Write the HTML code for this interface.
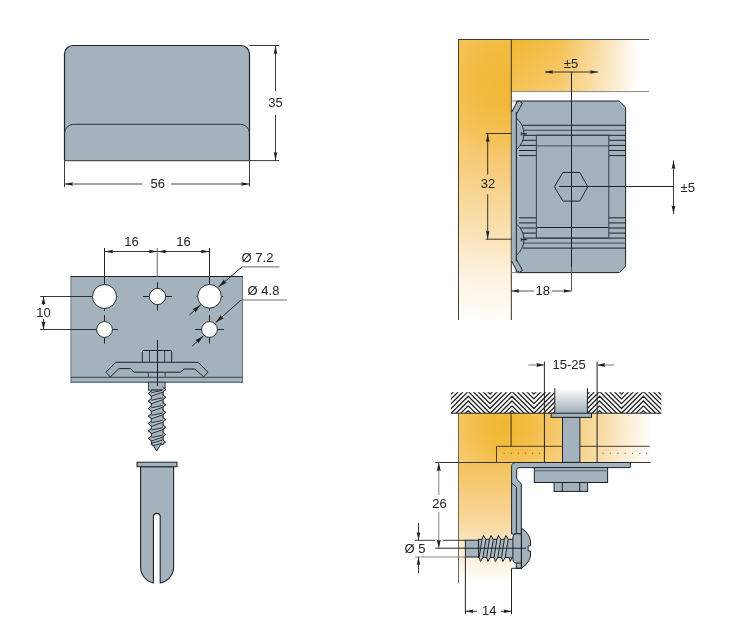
<!DOCTYPE html>
<html><head><meta charset="utf-8"><style>html,body{margin:0;padding:0;background:#fff;overflow:hidden}svg{display:block;will-change:transform}text{font-family:"Liberation Sans",sans-serif}</style></head>
<body><svg width="751" height="639" viewBox="0 0 751 639">
<defs>
<radialGradient id="gL" gradientUnits="userSpaceOnUse" cx="508" cy="80" r="245">
<stop offset="0" stop-color="#f2b636"/><stop offset="0.12" stop-color="#f3ba40"/><stop offset="0.26" stop-color="#f5c35a"/><stop offset="0.32" stop-color="#f6c870"/><stop offset="0.58" stop-color="#f9dda8"/><stop offset="0.82" stop-color="#fdf3e3"/><stop offset="1" stop-color="#fffefb"/></radialGradient>
<linearGradient id="gT" gradientUnits="userSpaceOnUse" x1="511" y1="0" x2="649" y2="0">
<stop offset="0" stop-color="#f2b630"/><stop offset="0.35" stop-color="#f4c050"/><stop offset="0.6" stop-color="#f8d898"/><stop offset="0.8" stop-color="#fcefd8"/><stop offset="0.92" stop-color="#ffffff"/></linearGradient>
<linearGradient id="gTv" x1="0" y1="0" x2="0" y2="1"><stop offset="0" stop-color="#fff" stop-opacity="0"/><stop offset="1" stop-color="#fff" stop-opacity="0.18"/></linearGradient>
<radialGradient id="gW" gradientUnits="userSpaceOnUse" cx="505" cy="425" r="150">
<stop offset="0" stop-color="#f2b630"/><stop offset="0.15" stop-color="#f3bb40"/><stop offset="0.36" stop-color="#f6c96e"/><stop offset="0.65" stop-color="#f9dca5"/><stop offset="0.85" stop-color="#fdf1de"/><stop offset="1" stop-color="#ffffff"/></radialGradient>
<linearGradient id="gW2" gradientUnits="userSpaceOnUse" x1="0" y1="462" x2="0" y2="585">
<stop offset="0" stop-color="#f4c25a"/><stop offset="0.45" stop-color="#f8d698"/><stop offset="0.75" stop-color="#fcedd5"/><stop offset="1" stop-color="#ffffff"/></linearGradient>
<linearGradient id="gS" x1="0" y1="0" x2="0" y2="1">
<stop offset="0" stop-color="#ffffff"/><stop offset="1" stop-color="#9fadb8"/></linearGradient>
<clipPath id="hclip"><path d="M450.8,392.2 L554.8,392.2 L554.8,413.2 L450.8,413.2 Z M587.4,392.2 L661.4,392.2 L661.4,413.2 L587.4,413.2 Z"/></clipPath>
</defs>
<path d="M64.5,160.6 L64.5,54.0 A8.5,8.5 0 0 1 73.0,45.5 L241.0,45.5 A8.5,8.5 0 0 1 249.5,54.0 L249.5,160.6 Z" fill="#a3b2bc" stroke="none"/>
<path d="M64.5,160.6 L64.5,54.0 A8.5,8.5 0 0 1 73.0,45.5 L241.0,45.5 A8.5,8.5 0 0 1 249.5,54.0 L249.5,160.6" fill="none" stroke="#1e2328" stroke-width="1.2"/>
<line x1="64.5" y1="160.6" x2="249.5" y2="160.6" stroke="#4a545c" stroke-width="1.2" />
<path d="M64.5,133.3 A9,9 0 0 1 73.5,124.3 L240.5,124.3 A9,9 0 0 1 249.5,133.3" fill="none" stroke="#2a3540" stroke-width="1"/>
<line x1="249.5" y1="45.5" x2="279" y2="45.5" stroke="#222" stroke-width="0.9" />
<line x1="249.5" y1="160.6" x2="279" y2="160.6" stroke="#222" stroke-width="0.9" />
<line x1="64.5" y1="160.6" x2="64.5" y2="187.2" stroke="#222" stroke-width="0.9" />
<line x1="249.5" y1="160.6" x2="249.5" y2="186.5" stroke="#222" stroke-width="0.9" />
<line x1="275.5" y1="45.5" x2="275.5" y2="91" stroke="#222" stroke-width="0.9" />
<line x1="275.5" y1="115" x2="275.5" y2="160.6" stroke="#222" stroke-width="0.9" />
<polygon points="275.5,45.5 277.3,54 275.5,53.15 273.7,54" fill="#222"/>
<polygon points="275.5,160.6 273.7,152.1 275.5,152.95 277.3,152.1" fill="#222"/>
<text x="275.5" y="107" font-size="13" text-anchor="middle" fill="#222">35</text>
<line x1="64.5" y1="184" x2="142.4" y2="184" stroke="#333" stroke-width="0.9" />
<line x1="171.1" y1="184" x2="249.5" y2="184" stroke="#333" stroke-width="0.9" />
<polygon points="64.5,184 73,182.2 72.15,184 73,185.8" fill="#222"/>
<polygon points="249.5,184 241,185.8 241.85,184 241,182.2" fill="#222"/>
<text x="157.8" y="187.8" font-size="13" text-anchor="middle" fill="#222">56</text>
<rect x="71" y="276.5" width="171.5" height="105.69999999999999" fill="#a3b2bc"/>
<line x1="71" y1="276.5" x2="71" y2="382.2" stroke="#6d7880" stroke-width="1.1" />
<line x1="242.5" y1="276.5" x2="242.5" y2="382.2" stroke="#6d7880" stroke-width="1.1" />
<line x1="70.5" y1="276.5" x2="243" y2="276.5" stroke="#1e2328" stroke-width="1.1" />
<line x1="70.5" y1="382.2" x2="243" y2="382.2" stroke="#3e4850" stroke-width="1.1" />
<line x1="71" y1="377.3" x2="242.5" y2="377.3" stroke="#39434b" stroke-width="1" />
<line x1="104.5" y1="251.5" x2="209.5" y2="251.5" stroke="#222" stroke-width="0.9" />
<polygon points="104.5,251.5 113,249.7 112.15,251.5 113,253.3" fill="#222"/>
<polygon points="157.5,251.5 149,253.3 149.85,251.5 149,249.7" fill="#222"/>
<polygon points="157.5,251.5 166,249.7 165.15,251.5 166,253.3" fill="#222"/>
<polygon points="209.5,251.5 201,253.3 201.85,251.5 201,249.7" fill="#222"/>
<line x1="104.5" y1="248" x2="104.5" y2="285" stroke="#1e2328" stroke-width="1" />
<line x1="157.2" y1="248" x2="157.2" y2="277" stroke="#555" stroke-width="0.9" />
<line x1="209.5" y1="248" x2="209.5" y2="285" stroke="#1e2328" stroke-width="1" />
<text x="131.6" y="246" font-size="13" text-anchor="middle" fill="#222">16</text>
<text x="183.6" y="246" font-size="13" text-anchor="middle" fill="#222">16</text>
<line x1="40.2" y1="296.5" x2="92.5" y2="296.5" stroke="#222" stroke-width="0.9" />
<line x1="40.2" y1="329.5" x2="96.6" y2="329.5" stroke="#222" stroke-width="0.9" />
<line x1="43.5" y1="296.5" x2="43.5" y2="305" stroke="#222" stroke-width="0.9" />
<line x1="43.5" y1="319" x2="43.5" y2="329.5" stroke="#222" stroke-width="0.9" />
<polygon points="43.5,296.5 45.5,304.5 43.5,303.7 41.5,304.5" fill="#222"/>
<polygon points="43.5,329.5 41.5,321.5 43.5,322.3 45.5,321.5" fill="#222"/>
<text x="43.5" y="316.6" font-size="13" text-anchor="middle" fill="#222">10</text>
<line x1="157.5" y1="282.4" x2="157.5" y2="290" stroke="#1e2328" stroke-width="1" />
<line x1="157.5" y1="303" x2="157.5" y2="310.6" stroke="#1e2328" stroke-width="1" />
<line x1="143" y1="296.5" x2="150" y2="296.5" stroke="#1e2328" stroke-width="1" />
<line x1="165" y1="296.5" x2="172" y2="296.5" stroke="#1e2328" stroke-width="1" />
<line x1="104.5" y1="307" x2="104.5" y2="311" stroke="#1e2328" stroke-width="1" />
<line x1="115" y1="296.5" x2="117.5" y2="296.5" stroke="#1e2328" stroke-width="1" />
<line x1="104.5" y1="315" x2="104.5" y2="322" stroke="#1e2328" stroke-width="1" />
<line x1="104.5" y1="337" x2="104.5" y2="343.6" stroke="#1e2328" stroke-width="1" />
<line x1="111.5" y1="329.5" x2="117.8" y2="329.5" stroke="#1e2328" stroke-width="1" />
<line x1="209.5" y1="307" x2="209.5" y2="310.8" stroke="#1e2328" stroke-width="1" />
<line x1="196.5" y1="296.5" x2="199" y2="296.5" stroke="#1e2328" stroke-width="1" />
<line x1="220.5" y1="296.5" x2="223" y2="296.5" stroke="#1e2328" stroke-width="1" />
<line x1="209.5" y1="315" x2="209.5" y2="322" stroke="#1e2328" stroke-width="1" />
<line x1="209.5" y1="337" x2="209.5" y2="343.5" stroke="#1e2328" stroke-width="1" />
<line x1="195.2" y1="329.5" x2="202" y2="329.5" stroke="#1e2328" stroke-width="1" />
<line x1="217" y1="329.5" x2="223.9" y2="329.5" stroke="#1e2328" stroke-width="1" />
<circle cx="104.5" cy="296.5" r="12" fill="#fff" stroke="#2a2f33" stroke-width="1"/>
<circle cx="209.5" cy="296.3" r="11.8" fill="#fff" stroke="#2a2f33" stroke-width="1"/>
<circle cx="157.5" cy="296.5" r="8.1" fill="#fff" stroke="#2a2f33" stroke-width="1"/>
<circle cx="104.5" cy="329.5" r="7.9" fill="#fff" stroke="#2a2f33" stroke-width="1"/>
<circle cx="209.5" cy="329.5" r="7.9" fill="#fff" stroke="#2a2f33" stroke-width="1"/>
<line x1="242" y1="266.9" x2="279.5" y2="266.9" stroke="#6a6a6a" stroke-width="1" />
<line x1="242" y1="266.9" x2="218.5" y2="287" stroke="#222" stroke-width="1" />
<polygon points="218.5,287 223.97,279.55 224.66,281.74 226.7,282.75" fill="#222"/>
<line x1="189.4" y1="315" x2="200.7" y2="304.8" stroke="#222" stroke-width="1" />
<polygon points="200.7,304.8 195.43,312.39 194.69,310.23 192.61,309.27" fill="#222"/>
<line x1="241" y1="300" x2="287" y2="300" stroke="#6a6a6a" stroke-width="1" />
<line x1="241" y1="300" x2="215.7" y2="322.6" stroke="#222" stroke-width="1" />
<polygon points="215.7,322.6 221.01,315.04 221.74,317.2 223.81,318.17" fill="#222"/>
<line x1="192.2" y1="346" x2="203.5" y2="335.8" stroke="#222" stroke-width="1" />
<polygon points="203.5,335.8 198.23,343.39 197.49,341.23 195.41,340.27" fill="#222"/>
<text x="241.6" y="261.8" font-size="13" text-anchor="start" fill="#222">Ø 7.2</text>
<text x="247.6" y="294.6" font-size="13" text-anchor="start" fill="#222">Ø 4.8</text>
<path d="M142.3,362.3 L142.3,352.2 Q142.3,350.5 144,350.5 L170,350.5 Q171.7,350.5 171.7,352.2 L171.7,362.3" fill="#a3b2bc" stroke="#1e2328" stroke-width="1"/>
<line x1="149.5" y1="350.5" x2="149.5" y2="362.3" stroke="#39434b" stroke-width="1" />
<line x1="164.6" y1="350.5" x2="164.6" y2="362.3" stroke="#39434b" stroke-width="1" />
<path d="M115.8,362.3 L198.1,362.3 L207.9,372.2 L203.7,376.8 L194.8,369 L184,369 L180.4,372.2 L133.9,372.2 L130.6,368.6 L118.9,368.6 L110.3,377 L106,372.2 Z" fill="#a3b2bc" stroke="#1e2328" stroke-width="1"/>
<line x1="148.4" y1="372.2" x2="148.4" y2="377.3" stroke="#39434b" stroke-width="1" />
<line x1="165.1" y1="372.2" x2="165.1" y2="377.3" stroke="#39434b" stroke-width="1" />
<rect x="148.4" y="382.2" width="16.7" height="8" fill="#a3b2bc" stroke="#39434b" stroke-width="1"/>
<path d="M151.3,390 L163.2,390 L163.2,444.5 L160.7,444.5 L156.7,451 L152.7,444.5 L151.3,444.5 Z" fill="#a3b2bc" stroke="#1e2328" stroke-width="1"/>
<path d="M148.3,393.4 L165.6,389.6 L162.5,392.2 L151.6,396 Z" fill="#b9c5ce" stroke="#1e2328" stroke-width="0.9" stroke-linejoin="round"/>
<path d="M151.6,390.8 L148.3,393.4 L151.6,396" fill="#a3b2bc" stroke="#1e2328" stroke-width="1"/>
<path d="M162.5,387 L165.6,389.6 L162.5,392.2" fill="#a3b2bc" stroke="#1e2328" stroke-width="1"/>
<path d="M148.3,401 L165.6,397.2 L162.5,399.8 L151.6,403.6 Z" fill="#b9c5ce" stroke="#1e2328" stroke-width="0.9" stroke-linejoin="round"/>
<path d="M151.6,398.4 L148.3,401 L151.6,403.6" fill="#a3b2bc" stroke="#1e2328" stroke-width="1"/>
<path d="M162.5,394.6 L165.6,397.2 L162.5,399.8" fill="#a3b2bc" stroke="#1e2328" stroke-width="1"/>
<path d="M148.3,408.6 L165.6,404.8 L162.5,407.4 L151.6,411.2 Z" fill="#b9c5ce" stroke="#1e2328" stroke-width="0.9" stroke-linejoin="round"/>
<path d="M151.6,406 L148.3,408.6 L151.6,411.2" fill="#a3b2bc" stroke="#1e2328" stroke-width="1"/>
<path d="M162.5,402.2 L165.6,404.8 L162.5,407.4" fill="#a3b2bc" stroke="#1e2328" stroke-width="1"/>
<path d="M148.3,416.1 L165.6,412.3 L162.5,414.9 L151.6,418.7 Z" fill="#b9c5ce" stroke="#1e2328" stroke-width="0.9" stroke-linejoin="round"/>
<path d="M151.6,413.5 L148.3,416.1 L151.6,418.7" fill="#a3b2bc" stroke="#1e2328" stroke-width="1"/>
<path d="M162.5,409.7 L165.6,412.3 L162.5,414.9" fill="#a3b2bc" stroke="#1e2328" stroke-width="1"/>
<path d="M148.3,423.5 L165.6,419.7 L162.5,422.3 L151.6,426.1 Z" fill="#b9c5ce" stroke="#1e2328" stroke-width="0.9" stroke-linejoin="round"/>
<path d="M151.6,420.9 L148.3,423.5 L151.6,426.1" fill="#a3b2bc" stroke="#1e2328" stroke-width="1"/>
<path d="M162.5,417.1 L165.6,419.7 L162.5,422.3" fill="#a3b2bc" stroke="#1e2328" stroke-width="1"/>
<path d="M148.3,430.9 L165.6,427.1 L162.5,429.7 L151.6,433.5 Z" fill="#b9c5ce" stroke="#1e2328" stroke-width="0.9" stroke-linejoin="round"/>
<path d="M151.6,428.3 L148.3,430.9 L151.6,433.5" fill="#a3b2bc" stroke="#1e2328" stroke-width="1"/>
<path d="M162.5,424.5 L165.6,427.1 L162.5,429.7" fill="#a3b2bc" stroke="#1e2328" stroke-width="1"/>
<path d="M148.3,438.3 L165.6,434.5 L162.5,437.1 L151.6,440.9 Z" fill="#b9c5ce" stroke="#1e2328" stroke-width="0.9" stroke-linejoin="round"/>
<path d="M151.6,435.7 L148.3,438.3 L151.6,440.9" fill="#a3b2bc" stroke="#1e2328" stroke-width="1"/>
<path d="M162.5,431.9 L165.6,434.5 L162.5,437.1" fill="#a3b2bc" stroke="#1e2328" stroke-width="1"/>
<path d="M152.3,445.8 L165.3,442.2 L162.3,440.2 L151.8,443.2 Z" fill="#b9c5ce" stroke="#1e2328" stroke-width="0.9" stroke-linejoin="round"/>
<path d="M162.5,439.6 L165.4,442.2 L161.5,445" fill="#a3b2bc" stroke="#1e2328" stroke-width="1"/>
<line x1="157.5" y1="340" x2="157.5" y2="386" stroke="#1e2328" stroke-width="1.1" />
<path d="M140.6,466.7 L173.6,466.7 L173.6,567 A16.4,16.4 0 0 1 160.2,583 L160.2,516 A3.5,3.5 0 0 0 153.4,516 L153.4,583 A16.4,16.4 0 0 1 140.6,567 Z" fill="#a3b2bc" stroke="#1e2328" stroke-width="1.1"/>
<rect x="137" y="462.2" width="40" height="4.5" fill="#a3b2bc" stroke="#1e2328" stroke-width="1"/>
<rect x="458.5" y="39.5" width="52.8" height="280.5" fill="url(#gL)"/>
<rect x="511.3" y="39.5" width="138" height="52.1" fill="url(#gT)"/>
<rect x="511.3" y="39.5" width="138" height="52.1" fill="url(#gTv)"/>
<line x1="458" y1="39.5" x2="511.3" y2="39.5" stroke="#3f3526" stroke-width="1" />
<line x1="511.3" y1="39.5" x2="649" y2="39.5" stroke="#555" stroke-width="1" />
<line x1="511.3" y1="91.6" x2="649" y2="91.6" stroke="#888" stroke-width="1" />
<line x1="458.5" y1="39" x2="458.5" y2="320" stroke="#4a4030" stroke-width="1" />
<line x1="511.3" y1="39" x2="511.3" y2="320" stroke="#3a3226" stroke-width="1" />
<path d="M516.3,101 L619.2,101 L625.6,107.2 L625.6,266.2 L619.4,272.6 L516.3,272.6 Z" fill="#a3b2bc" stroke="#1e2328" stroke-width="1"/>
<rect x="511.8" y="112" width="4.5" height="150" fill="#a3b2bc"/>
<line x1="511.5" y1="101" x2="520" y2="101" stroke="#7a848c" stroke-width="1" />
<line x1="511.5" y1="272.6" x2="520" y2="272.6" stroke="#7a848c" stroke-width="1" />
<path d="M511.6,112.3 L517.2,101.6 Q519.5,100.1 522.5,103.1 L516.3,114.3" fill="#a3b2bc" stroke="#1e2328" stroke-width="1"/>
<line x1="522.5" y1="125.3" x2="625.6" y2="125.3" stroke="#1e2328" stroke-width="1" />
<line x1="522.5" y1="130.3" x2="625.6" y2="130.3" stroke="#3d4850" stroke-width="1" />
<line x1="522.5" y1="135.3" x2="625.6" y2="135.3" stroke="#1e2328" stroke-width="1" />
<line x1="519" y1="140.3" x2="536.4" y2="140.3" stroke="#1e2328" stroke-width="1" />
<line x1="608.8" y1="140.3" x2="625.6" y2="140.3" stroke="#1e2328" stroke-width="1" />
<line x1="519" y1="145.4" x2="536.4" y2="145.4" stroke="#1e2328" stroke-width="1" />
<line x1="608.8" y1="145.4" x2="625.6" y2="145.4" stroke="#1e2328" stroke-width="1" />
<line x1="519" y1="150.5" x2="536.4" y2="150.5" stroke="#1e2328" stroke-width="1" />
<line x1="608.8" y1="150.5" x2="625.6" y2="150.5" stroke="#1e2328" stroke-width="1" />
<line x1="519" y1="155.6" x2="536.4" y2="155.6" stroke="#1e2328" stroke-width="1" />
<line x1="608.8" y1="155.6" x2="625.6" y2="155.6" stroke="#1e2328" stroke-width="1" />
<line x1="536.4" y1="145.9" x2="608.8" y2="145.9" stroke="#4a555e" stroke-width="1" />
<path d="M516.3,118 A20.2,20.2 0 0 1 516.3,149.6" fill="#a3b2bc" stroke="#1e2328" stroke-width="0.9"/>
<line x1="521.3" y1="133.8" x2="526.9" y2="133.8" stroke="#1e2328" stroke-width="1.2" />
<line x1="521.3" y1="132" x2="521.3" y2="135.6" stroke="#1e2328" stroke-width="0.9" />
<path d="M511.6,261.1 L517.2,271.8 Q519.5,273.3 522.5,270.3 L516.3,259.1" fill="#a3b2bc" stroke="#1e2328" stroke-width="1"/>
<line x1="522.5" y1="248.1" x2="625.6" y2="248.1" stroke="#1e2328" stroke-width="1" />
<line x1="522.5" y1="243.1" x2="625.6" y2="243.1" stroke="#3d4850" stroke-width="1" />
<line x1="522.5" y1="238.1" x2="625.6" y2="238.1" stroke="#1e2328" stroke-width="1" />
<line x1="519" y1="233.1" x2="536.4" y2="233.1" stroke="#1e2328" stroke-width="1" />
<line x1="608.8" y1="233.1" x2="625.6" y2="233.1" stroke="#1e2328" stroke-width="1" />
<line x1="519" y1="228" x2="536.4" y2="228" stroke="#1e2328" stroke-width="1" />
<line x1="608.8" y1="228" x2="625.6" y2="228" stroke="#1e2328" stroke-width="1" />
<line x1="519" y1="222.9" x2="536.4" y2="222.9" stroke="#1e2328" stroke-width="1" />
<line x1="608.8" y1="222.9" x2="625.6" y2="222.9" stroke="#1e2328" stroke-width="1" />
<line x1="519" y1="217.8" x2="536.4" y2="217.8" stroke="#1e2328" stroke-width="1" />
<line x1="608.8" y1="217.8" x2="625.6" y2="217.8" stroke="#1e2328" stroke-width="1" />
<line x1="536.4" y1="227.5" x2="608.8" y2="227.5" stroke="#1e2328" stroke-width="1" />
<path d="M516.3,223.8 A20.2,20.2 0 0 1 516.3,255.4" fill="#a3b2bc" stroke="#1e2328" stroke-width="0.9"/>
<line x1="521.3" y1="239.6" x2="526.9" y2="239.6" stroke="#1e2328" stroke-width="1.2" />
<line x1="521.3" y1="237.8" x2="521.3" y2="241.4" stroke="#1e2328" stroke-width="0.9" />
<line x1="516.3" y1="112" x2="516.3" y2="261.5" stroke="#1e2328" stroke-width="1" />
<rect x="536.4" y="135.3" width="72.4" height="102.8" fill="none" stroke="#3d4850" stroke-width="1.1"/>
<polygon points="554.4,186.7 562.9,172.4 579.8,172.4 587.8,186.7 579.8,201.1 562.9,201.1" fill="none" stroke="#1e2328" stroke-width="1"/>
<line x1="571.5" y1="72" x2="571.5" y2="267" stroke="#1e2328" stroke-width="1" />
<line x1="571.5" y1="267" x2="571.5" y2="291" stroke="#555" stroke-width="1" />
<line x1="559" y1="186.5" x2="673.5" y2="186.5" stroke="#1e2328" stroke-width="1" />
<line x1="545" y1="72" x2="598" y2="72" stroke="#222" stroke-width="0.9" />
<polygon points="545,72 553,70.2 552.2,72 553,73.8" fill="#222"/>
<polygon points="598,72 590,73.8 590.8,72 590,70.2" fill="#222"/>
<text x="571" y="67.8" font-size="13" text-anchor="middle" fill="#222">±5</text>
<line x1="673.5" y1="160.4" x2="673.5" y2="214" stroke="#222" stroke-width="0.9" />
<polygon points="673.5,160.4 675.4,168.9 673.5,168.05 671.6,168.9" fill="#222"/>
<polygon points="673.5,214 671.6,205.5 673.5,206.35 675.4,205.5" fill="#222"/>
<text x="680.6" y="191.8" font-size="13" text-anchor="start" fill="#222">±5</text>
<line x1="485.8" y1="133.5" x2="512" y2="133.5" stroke="#222" stroke-width="0.9" />
<line x1="485.8" y1="239.2" x2="512" y2="239.2" stroke="#222" stroke-width="0.9" />
<line x1="487.7" y1="133.5" x2="487.7" y2="174.7" stroke="#222" stroke-width="0.9" />
<line x1="487.7" y1="194.2" x2="487.7" y2="239.2" stroke="#222" stroke-width="0.9" />
<polygon points="487.7,133.5 489.5,142 487.7,141.15 485.9,142" fill="#222"/>
<polygon points="487.7,239.2 485.9,230.7 487.7,231.55 489.5,230.7" fill="#222"/>
<text x="487.9" y="188.3" font-size="13" text-anchor="middle" fill="#222">32</text>
<line x1="511.3" y1="291" x2="534" y2="291" stroke="#444" stroke-width="0.9" />
<line x1="552" y1="291" x2="571.5" y2="291" stroke="#444" stroke-width="0.9" />
<polygon points="511.3,291 519.3,289.2 518.5,291 519.3,292.8" fill="#222"/>
<polygon points="571.5,291 563.5,292.8 564.3,291 563.5,289.2" fill="#222"/>
<text x="542.8" y="295.2" font-size="13" text-anchor="middle" fill="#222">18</text>
<path d="M458.4,413.2 L650,413.2 L650,462.5 L511.3,462.5 L511.3,583.3 L458.4,583.3 Z" fill="url(#gW)"/>
<rect x="458.4" y="462.5" width="53" height="121" fill="url(#gW2)"/>
<g clip-path="url(#hclip)">
<path d="M380.6,362.6 L402.5,384.5 L424.4,362.6 L446.3,384.5 L468.2,362.6 L490.1,384.5 L512,362.6 L533.9,384.5 L555.8,362.6 L577.7,384.5 L599.6,362.6 L621.5,384.5 L643.4,362.6 L665.3,384.5 M380.6,367.4 L402.5,389.3 L424.4,367.4 L446.3,389.3 L468.2,367.4 L490.1,389.3 L512,367.4 L533.9,389.3 L555.8,367.4 L577.7,389.3 L599.6,367.4 L621.5,389.3 L643.4,367.4 L665.3,389.3 M380.6,372.2 L402.5,394.1 L424.4,372.2 L446.3,394.1 L468.2,372.2 L490.1,394.1 L512,372.2 L533.9,394.1 L555.8,372.2 L577.7,394.1 L599.6,372.2 L621.5,394.1 L643.4,372.2 L665.3,394.1 M380.6,377 L402.5,398.9 L424.4,377 L446.3,398.9 L468.2,377 L490.1,398.9 L512,377 L533.9,398.9 L555.8,377 L577.7,398.9 L599.6,377 L621.5,398.9 L643.4,377 L665.3,398.9 M380.6,381.8 L402.5,403.7 L424.4,381.8 L446.3,403.7 L468.2,381.8 L490.1,403.7 L512,381.8 L533.9,403.7 L555.8,381.8 L577.7,403.7 L599.6,381.8 L621.5,403.7 L643.4,381.8 L665.3,403.7 M380.6,386.6 L402.5,408.5 L424.4,386.6 L446.3,408.5 L468.2,386.6 L490.1,408.5 L512,386.6 L533.9,408.5 L555.8,386.6 L577.7,408.5 L599.6,386.6 L621.5,408.5 L643.4,386.6 L665.3,408.5 M380.6,391.4 L402.5,413.3 L424.4,391.4 L446.3,413.3 L468.2,391.4 L490.1,413.3 L512,391.4 L533.9,413.3 L555.8,391.4 L577.7,413.3 L599.6,391.4 L621.5,413.3 L643.4,391.4 L665.3,413.3 M380.6,396.2 L402.5,418.1 L424.4,396.2 L446.3,418.1 L468.2,396.2 L490.1,418.1 L512,396.2 L533.9,418.1 L555.8,396.2 L577.7,418.1 L599.6,396.2 L621.5,418.1 L643.4,396.2 L665.3,418.1 M380.6,401 L402.5,422.9 L424.4,401 L446.3,422.9 L468.2,401 L490.1,422.9 L512,401 L533.9,422.9 L555.8,401 L577.7,422.9 L599.6,401 L621.5,422.9 L643.4,401 L665.3,422.9 M380.6,405.8 L402.5,427.7 L424.4,405.8 L446.3,427.7 L468.2,405.8 L490.1,427.7 L512,405.8 L533.9,427.7 L555.8,405.8 L577.7,427.7 L599.6,405.8 L621.5,427.7 L643.4,405.8 L665.3,427.7 M380.6,410.6 L402.5,432.5 L424.4,410.6 L446.3,432.5 L468.2,410.6 L490.1,432.5 L512,410.6 L533.9,432.5 L555.8,410.6 L577.7,432.5 L599.6,410.6 L621.5,432.5 L643.4,410.6 L665.3,432.5 M380.6,415.4 L402.5,437.3 L424.4,415.4 L446.3,437.3 L468.2,415.4 L490.1,437.3 L512,415.4 L533.9,437.3 L555.8,415.4 L577.7,437.3 L599.6,415.4 L621.5,437.3 L643.4,415.4 L665.3,437.3 M380.6,420.2 L402.5,442.1 L424.4,420.2 L446.3,442.1 L468.2,420.2 L490.1,442.1 L512,420.2 L533.9,442.1 L555.8,420.2 L577.7,442.1 L599.6,420.2 L621.5,442.1 L643.4,420.2 L665.3,442.1" fill="none" stroke="#222" stroke-width="1.3"/>
</g>
<line x1="450.8" y1="413.2" x2="661.4" y2="413.2" stroke="#1e2328" stroke-width="1" />
<rect x="554.8" y="388.2" width="32.6" height="25" fill="url(#gS)"/>
<line x1="554.8" y1="388.2" x2="554.8" y2="413.2" stroke="#1e2328" stroke-width="1" />
<line x1="587.4" y1="388.2" x2="587.4" y2="413.2" stroke="#1e2328" stroke-width="1" />
<line x1="458.5" y1="413.2" x2="458.5" y2="583.3" stroke="#6e6a62" stroke-width="1" />
<line x1="511.1" y1="413.2" x2="511.1" y2="446.3" stroke="#3b3020" stroke-width="1" />
<line x1="496.5" y1="446.3" x2="649.8" y2="446.3" stroke="#4a3d2a" stroke-width="1" />
<line x1="496.5" y1="446.3" x2="496.5" y2="462.5" stroke="#4a3d2a" stroke-width="1" />
<line x1="435.4" y1="462.5" x2="650.7" y2="462.5" stroke="#333" stroke-width="1" />
<rect x="503.65" y="452.75" width="1.1" height="1.1" fill="#55822a"/>
<rect x="510.65" y="452.75" width="1.1" height="1.1" fill="#55822a"/>
<rect x="517.85" y="452.75" width="1.1" height="1.1" fill="#55822a"/>
<rect x="524.85" y="452.75" width="1.1" height="1.1" fill="#55822a"/>
<rect x="531.95" y="452.75" width="1.1" height="1.1" fill="#55822a"/>
<rect x="539.05" y="452.75" width="1.1" height="1.1" fill="#55822a"/>
<rect x="602.55" y="452.75" width="1.1" height="1.1" fill="#55822a"/>
<rect x="609.75" y="452.75" width="1.1" height="1.1" fill="#55822a"/>
<rect x="617.25" y="452.75" width="1.1" height="1.1" fill="#55822a"/>
<rect x="624.65" y="452.75" width="1.1" height="1.1" fill="#55822a"/>
<rect x="631.95" y="452.75" width="1.1" height="1.1" fill="#55822a"/>
<rect x="639.25" y="452.75" width="1.1" height="1.1" fill="#55822a"/>
<rect x="646.05" y="452.75" width="1.1" height="1.1" fill="#55822a"/>
<rect x="551.2" y="413.2" width="40.3" height="4.2" fill="#a3b2bc" stroke="#1e2328" stroke-width="1"/>
<rect x="562.5" y="417.4" width="17.4" height="45" fill="#a3b2bc" stroke="#1e2328" stroke-width="1"/>
<line x1="544.4" y1="361.6" x2="544.4" y2="462.5" stroke="#1e2328" stroke-width="1" />
<line x1="597.1" y1="361.6" x2="597.1" y2="462.5" stroke="#1e2328" stroke-width="1" />
<line x1="528.3" y1="365" x2="544.4" y2="365" stroke="#888" stroke-width="1.1" />
<polygon points="544.4,365 536.4,367.1 537.2,365 536.4,362.9" fill="#222"/>
<line x1="597.1" y1="365" x2="614" y2="365" stroke="#888" stroke-width="1.1" />
<polygon points="597.1,365 605.1,362.9 604.3,365 605.1,367.1" fill="#222"/>
<text x="569.2" y="368.8" font-size="13" text-anchor="middle" fill="#222">15-25</text>
<path d="M516.2,462.5 L630.3,462.5 L630.3,467.6 L519,467.6 Q516.7,467.6 516.7,470 L516.7,479.3 L521.3,483.7 L521.3,534 L511.6,534 L511.6,466.5 Q511.6,462.5 516.2,462.5 Z" fill="#a3b2bc" stroke="#1e2328" stroke-width="1"/>
<path d="M511.6,483.2 L516.4,487 L516.4,534" fill="none" stroke="#1e2328" stroke-width="1"/>
<rect x="534.3" y="467.6" width="73.3" height="14.9" fill="#a3b2bc" stroke="#1e2328" stroke-width="1"/>
<line x1="534.3" y1="470.8" x2="607.6" y2="470.8" stroke="#56626b" stroke-width="1.1" />
<rect x="554.1" y="482.5" width="33.5" height="8.9" fill="#a3b2bc" stroke="#1e2328" stroke-width="1"/>
<line x1="562.3" y1="482.5" x2="562.3" y2="491.4" stroke="#1e2328" stroke-width="1" />
<line x1="579.7" y1="482.5" x2="579.7" y2="491.4" stroke="#1e2328" stroke-width="1" />
<rect x="465.4" y="540.2" width="13.2" height="16.8" fill="#a3b2bc" stroke="#1e2328" stroke-width="1"/>
<rect x="478.6" y="539.3" width="35" height="18.2" fill="#a3b2bc" stroke="#1e2328" stroke-width="1"/>
<path d="M479.2,557.5 L480.5,561.5 L482.8,557.5 L485.9,539.3 L483.5,535.5 L482,539.3 Z" fill="#b4c0c9" stroke="#1e2328" stroke-width="1" stroke-linejoin="round"/>
<path d="M486.65,557.5 L487.95,561.5 L490.25,557.5 L493.35,539.3 L490.95,535.5 L489.45,539.3 Z" fill="#b4c0c9" stroke="#1e2328" stroke-width="1" stroke-linejoin="round"/>
<path d="M494.1,557.5 L495.4,561.5 L497.7,557.5 L500.8,539.3 L498.4,535.5 L496.9,539.3 Z" fill="#b4c0c9" stroke="#1e2328" stroke-width="1" stroke-linejoin="round"/>
<path d="M501.55,557.5 L502.85,561.5 L505.15,557.5 L508.25,539.3 L505.85,535.5 L504.35,539.3 Z" fill="#b4c0c9" stroke="#1e2328" stroke-width="1" stroke-linejoin="round"/>
<path d="M509,557.5 L510.3,561.5 L512.1,557.5" fill="#b4c0c9" stroke="#1e2328" stroke-width="1"/>
<path d="M521.5,528.2 Q532,535 530.5,545.8 L528.2,545.8 L528.2,551 L530.5,551 Q532,561.5 521.5,568.2 Z" fill="#a3b2bc" stroke="#1e2328" stroke-width="1"/>
<rect x="516.3" y="560" width="5.2" height="8.3" fill="#a3b2bc" stroke="#1e2328" stroke-width="1"/>
<path d="M521.5,533.8 L516,533.8 A3.1,3.1 0 0 0 512.9,536.9 L512.9,559.9 A3.1,3.1 0 0 0 516,563 L521.5,563 Z" fill="#a3b2bc" stroke="#1e2328" stroke-width="1"/>
<line x1="511.6" y1="568.3" x2="521.5" y2="568.3" stroke="#1e2328" stroke-width="1" />
<line x1="521.3" y1="534" x2="521.3" y2="568.3" stroke="#1e2328" stroke-width="1" />
<line x1="435.4" y1="548.2" x2="526" y2="548.2" stroke="#1e2328" stroke-width="1" />
<line x1="438.8" y1="462.5" x2="438.8" y2="495" stroke="#888" stroke-width="1" />
<line x1="438.8" y1="512" x2="438.8" y2="548.2" stroke="#888" stroke-width="1" />
<polygon points="438.8,462.5 440.8,471 438.8,470.15 436.8,471" fill="#222"/>
<polygon points="438.8,548.2 436.8,539.7 438.8,540.55 440.8,539.7" fill="#222"/>
<text x="439.4" y="507.8" font-size="13" text-anchor="middle" fill="#222">26</text>
<line x1="415" y1="540.3" x2="434.8" y2="540.3" stroke="#222" stroke-width="0.9" />
<line x1="443.2" y1="540.3" x2="465.4" y2="540.3" stroke="#222" stroke-width="0.9" />
<line x1="415" y1="557" x2="465.4" y2="557" stroke="#777" stroke-width="0.9" />
<line x1="418.5" y1="523" x2="418.5" y2="540.3" stroke="#222" stroke-width="0.9" />
<polygon points="418.5,540.3 416.7,532.3 418.5,533.1 420.3,532.3" fill="#222"/>
<line x1="418.5" y1="557" x2="418.5" y2="573.2" stroke="#222" stroke-width="0.9" />
<polygon points="418.5,557 420.3,565 418.5,564.2 416.7,565" fill="#222"/>
<text x="415" y="553.2" font-size="13" text-anchor="middle" fill="#222">Ø 5</text>
<line x1="465.4" y1="557" x2="465.4" y2="614.2" stroke="#1e2328" stroke-width="1" />
<line x1="511.5" y1="568.3" x2="511.5" y2="614.2" stroke="#1e2328" stroke-width="1" />
<line x1="465.4" y1="611.3" x2="477" y2="611.3" stroke="#222" stroke-width="0.9" />
<line x1="501" y1="611.3" x2="511.5" y2="611.3" stroke="#222" stroke-width="0.9" />
<polygon points="465.4,611.3 473.4,609.5 472.6,611.3 473.4,613.1" fill="#222"/>
<polygon points="511.5,611.3 503.5,613.1 504.3,611.3 503.5,609.5" fill="#222"/>
<text x="489.2" y="614.7" font-size="13" text-anchor="middle" fill="#222">14</text>
</svg></body></html>
